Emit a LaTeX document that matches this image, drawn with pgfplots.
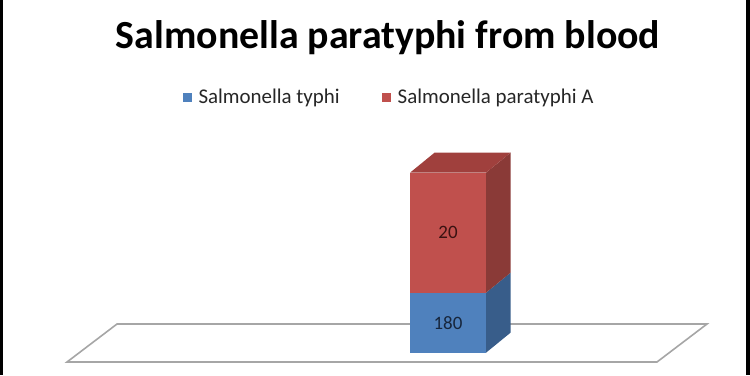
\documentclass[border=0pt]{standalone}
\usepackage{fontspec}
\setmainfont{Carlito}
\usepackage{pgfplots}
\pgfplotsset{compat=1.18}
\definecolor{bluefront}{HTML}{4F81BD}
\definecolor{blueside}{HTML}{385D8A}
\definecolor{redfront}{HTML}{C0504D}
\definecolor{redside}{HTML}{8A3A37}
\definecolor{redtop}{HTML}{A0403D}
\definecolor{floorline}{HTML}{A6A6A6}
\definecolor{lblred}{HTML}{3A1212}
\definecolor{lblblue}{HTML}{17263C}
\definecolor{legtext}{HTML}{262626}
\begin{document}
\begin{tikzpicture}
\begin{axis}[
  x=1bp, y=1bp,
  xmin=0, xmax=750, ymin=-22.3, ymax=352.7,
  hide axis, clip=false,
  legend image code/.code={\fill[#1] (0bp,-4.5bp) rectangle (9bp,4.5bp);
    \path[draw=none, fill=none] (0bp,0bp) rectangle (14bp,0.1bp);},
  legend style={at={(axis cs:389,255.7)}, anchor=center, draw=none, fill=none,
    font=\fontsize{21}{23}\selectfont, text=legtext, legend columns=2,
    /tikz/every even column/.append style={column sep=40bp}},
]
% floor
\addplot[draw=floorline, line width=1.6bp, fill=white, forget plot]
  coordinates {(67,-9.3) (657,-9.3) (707,28.7) (117,28.7)} -- cycle;
% 3D faces
\addplot[draw=none, fill=blueside, forget plot]
  coordinates {(486,0) (510.5,20) (510.5,80) (486,60)} -- cycle;
\addplot[draw=none, fill=redside, forget plot]
  coordinates {(486,60) (510.5,80) (510.5,200) (486,180)} -- cycle;
\addplot[draw=none, fill=redtop, forget plot]
  coordinates {(410,180) (434.5,200) (510.5,200) (486,180)} -- cycle;
% front bars (red drawn full height, blue overlaid at the bottom)
\addplot[ybar, bar shift=0pt, bar width=76, fill=redfront, draw=none, forget plot,
  point meta=explicit symbolic, nodes near coords,
  every node near coord/.append style={anchor=center, yshift=-60bp,
    font=\fontsize{19}{20}\selectfont, text=lblred}]
  coordinates {(448,180) [20]};
\addplot[ybar, bar shift=0pt, bar width=76, fill=bluefront, draw=none, forget plot,
  point meta=explicit symbolic, nodes near coords,
  every node near coord/.append style={anchor=center, yshift=-30bp,
    font=\fontsize{19}{20}\selectfont, text=lblblue}]
  coordinates {(448,60) [180]};
\addlegendimage{fill=bluefront, draw=none}
\addlegendentry{Salmonella typhi}
\addlegendimage{fill=redfront, draw=none}
\addlegendentry{Salmonella paratyphi A}
\node[font=\bfseries\fontsize{40}{48}\selectfont, anchor=base] at (axis cs:388,304.7)
  {Salmonella paratyphi from blood};
\end{axis}
\pgfresetboundingbox
\path (current axis.south west) rectangle (current axis.north east);
\fill[black] (current axis.south west) rectangle ([xshift=2.5bp]current axis.north west);
\fill[black] ([xshift=-4bp]current axis.south east) rectangle (current axis.north east);
\end{tikzpicture}
\end{document}
